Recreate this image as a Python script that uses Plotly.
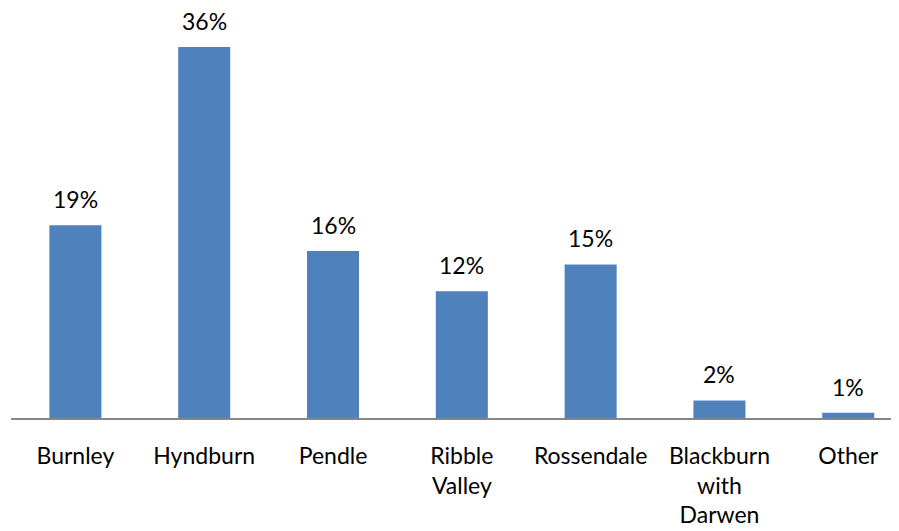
import plotly.graph_objects as go

categories = ["Burnley", "Hyndburn", "Pendle", "Ribble<br>Valley", "Rossendale", "Blackburn<br>with<br>Darwen", "Other"]
values = [18.7, 36.0, 16.2, 12.3, 14.9, 1.7, 0.5]
labels = ["19%", "36%", "16%", "12%", "15%", "2%", "1%"]

font_family = "Lato, 'Open Sans', sans-serif"

fig = go.Figure()
fig.add_trace(go.Bar(
    x=list(range(len(categories))),
    y=values,
    marker=dict(color="#4F81BD", line=dict(width=0)),
    hoverinfo="skip",
))

for i, (v, t) in enumerate(zip(values, labels)):
    fig.add_annotation(x=i, y=v, text=t, showarrow=False, yanchor="middle",
                       yshift=26, font=dict(family=font_family, size=23, color="#000000"))

fig.update_layout(
    width=891, height=523,
    margin=dict(l=3, r=0, t=2, b=113),
    paper_bgcolor="white", plot_bgcolor="white",
    bargap=0.596,
    showlegend=False,
    xaxis=dict(
        tickmode="array",
        tickvals=list(range(len(categories))),
        ticktext=categories,
        range=[-0.5, 6.394],
        showline=True, linecolor="#868686", linewidth=2,
        showgrid=False, zeroline=False, ticks="",
        tickfont=dict(family=font_family, size=23, color="#000000"),
        ticklabelstandoff=16,
    ),
    yaxis=dict(
        range=[0, 39.6],
        visible=False, showgrid=False, zeroline=False,
    ),
)

fig.write_html("out.html")
